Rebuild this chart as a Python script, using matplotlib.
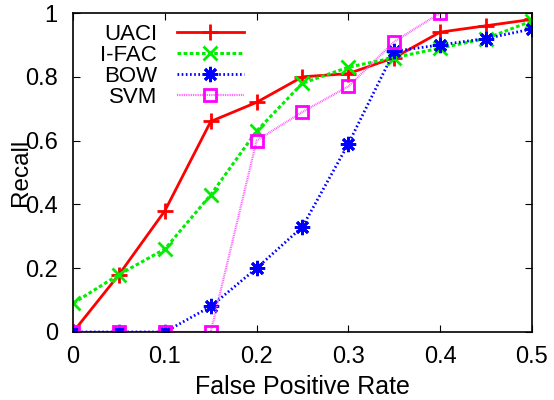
import matplotlib
matplotlib.use("Agg")
import matplotlib.pyplot as plt

plt.rcParams['font.family'] = ['Liberation Sans', 'DejaVu Sans']

# False positive rate on the x axis
fpr = [0, 0.05, 0.1, 0.15, 0.2, 0.25, 0.3, 0.35, 0.4, 0.45, 0.5]
fpr_svm = [0, 0.05, 0.1, 0.15, 0.2, 0.25, 0.3, 0.35, 0.4]

# recall for each method
uaci = [0, 0.18, 0.38, 0.66, 0.72, 0.80, 0.81, 0.86, 0.94, 0.96, 0.98]
ifac = [0.09, 0.18, 0.26, 0.43, 0.63, 0.78, 0.83, 0.86, 0.89, 0.92, 0.975]
bow = [0, 0, 0, 0.08, 0.20, 0.33, 0.59, 0.88, 0.90, 0.92, 0.95]
svm = [0, 0, 0, 0, 0.60, 0.69, 0.77, 0.91, 1.0]

xticks = [0, 0.1, 0.2, 0.3, 0.4, 0.5]
yticks = [0, 0.2, 0.4, 0.6, 0.8, 1]

fig = plt.figure(figsize=(5.54, 4), dpi=100)
ax = fig.add_axes([0.132, 0.17, 0.828, 0.7975])

ax.plot(fpr, uaci, color='red', lw=2, marker='+', ms=12, mew=2, label='UACI')
ax.plot(fpr, ifac, color='#00ee00', lw=2.2, ls=(0, (1.2, 0.8)), marker='x', ms=10, mew=2, label='I-FAC')
ax.plot(fpr, bow, color='blue', lw=2, ls=(0, (0.6, 0.9)), marker=(8, 2, 0), ms=11, mew=2, label='BOW')
ax.plot(fpr_svm, svm, color='#ff55ff', lw=1.6, ls=(0, (0.4, 0.4)), marker='s', ms=9,
        mec='magenta', mfc='none', mew=2, label='SVM')

ax.set_xlim(0, 0.5)
ax.set_ylim(0, 1)
ax.set_xticks(xticks)
ax.set_yticks(yticks)
ax.set_xticklabels([str(v) for v in xticks])
ax.set_yticklabels([str(v) for v in yticks])
ax.tick_params(direction='in', top=True, right=True, labelsize=17, length=5, pad=11)
ax.tick_params(axis='x', pad=10)
for s in ax.spines.values():
    s.set_linewidth(1.2)

ax.set_xlabel('False Positive Rate', fontsize=18, labelpad=5)
ax.set_ylabel('Recall', fontsize=17.5)
ax.yaxis.set_label_coords(-0.09, 0.5)

ax.legend(loc='upper left', bbox_to_anchor=(0.059, 0.965), frameon=False, markerfirst=False,
          fontsize=16, handlelength=3.0, handletextpad=0.9, labelspacing=0.0,
          borderpad=0, borderaxespad=0)

fig.savefig('out.png', dpi=100)
